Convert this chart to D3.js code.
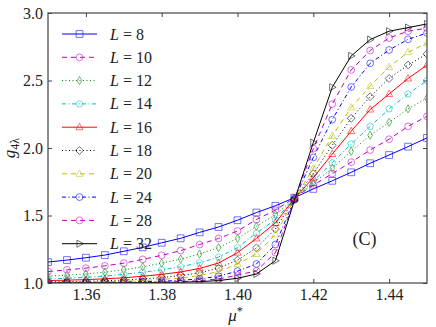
<!DOCTYPE html>
<html>
<head>
<meta charset="utf-8">
<script src="https://cdn.jsdelivr.net/npm/d3@7"></script>
<style>
  body { margin: 0; background: #fff; }
  text { font-family: "Liberation Serif", "DejaVu Serif", serif; }
</style>
</head>
<body>
<div id="chart"></div>
<script>
// Data
const mu = [1.350, 1.355, 1.360, 1.365, 1.370, 1.375, 1.380, 1.385, 1.390, 1.395, 1.400,
            1.405, 1.410, 1.415, 1.420, 1.425, 1.430, 1.435, 1.440, 1.445, 1.450];

const sizes = [8, 10, 12, 14, 16, 18, 20, 24, 28, 32];

const g8  = [1.155, 1.170, 1.187, 1.207, 1.235, 1.264, 1.298, 1.331, 1.375, 1.415, 1.465,
             1.522, 1.572, 1.632, 1.697, 1.757, 1.820, 1.887, 1.948, 2.010, 2.075];
const g10 = [1.085, 1.097, 1.110, 1.127, 1.147, 1.175, 1.205, 1.240, 1.285, 1.330, 1.385,
             1.470, 1.540, 1.630, 1.725, 1.810, 1.895, 1.985, 2.065, 2.160, 2.235];
const g12 = [1.050, 1.058, 1.068, 1.080, 1.098, 1.120, 1.147, 1.177, 1.215, 1.262, 1.330,
             1.420, 1.505, 1.628, 1.740, 1.850, 1.975, 2.095, 2.190, 2.290, 2.370];
const g14 = [1.030, 1.035, 1.042, 1.051, 1.064, 1.080, 1.098, 1.120, 1.150, 1.192, 1.262,
             1.370, 1.470, 1.626, 1.755, 1.890, 2.030, 2.160, 2.290, 2.400, 2.500];
const g16 = [1.018, 1.021, 1.025, 1.031, 1.039, 1.050, 1.064, 1.082, 1.108, 1.148, 1.225,
             1.330, 1.445, 1.624, 1.780, 1.955, 2.125, 2.285, 2.400, 2.515, 2.615];
const g18 = [1.008, 1.010, 1.013, 1.017, 1.022, 1.030, 1.040, 1.055, 1.075, 1.110, 1.170,
             1.260, 1.400, 1.622, 1.810, 2.020, 2.220, 2.380, 2.515, 2.615, 2.696];
const g20 = [1.005, 1.006, 1.008, 1.010, 1.013, 1.018, 1.026, 1.037, 1.055, 1.085, 1.140,
             1.215, 1.360, 1.620, 1.850, 2.090, 2.300, 2.459, 2.600, 2.710, 2.776];
const g24 = [1.002, 1.003, 1.004, 1.005, 1.007, 1.009, 1.013, 1.020, 1.030, 1.050, 1.088,
             1.141, 1.285, 1.618, 1.930, 2.210, 2.452, 2.627, 2.726, 2.805, 2.852];
const g28 = [1.001, 1.001, 1.002, 1.002, 1.003, 1.004, 1.006, 1.010, 1.017, 1.030, 1.058,
             1.090, 1.225, 1.615, 1.995, 2.325, 2.578, 2.722, 2.815, 2.865, 2.888];
const g32 = [1.000, 1.000, 1.001, 1.001, 1.002, 1.003, 1.004, 1.006, 1.010, 1.018, 1.035,
             1.067, 1.165, 1.610, 2.040, 2.450, 2.682, 2.803, 2.865, 2.892, 2.919];

const xTicks = [1.36, 1.38, 1.40, 1.42, 1.44];
const yTicks = [1.0, 1.5, 2.0, 2.5, 3.0];

// styling per series
const styles = [
  {color: "#0000ff", dash: null,            marker: "square"},
  {color: "#bf00bf", dash: "5,4",           marker: "circle"},
  {color: "#008000", dash: "1,2.5",         marker: "thin_diamond"},
  {color: "#00bfbf", dash: "4,2.5,1,2.5",   marker: "pentagon"},
  {color: "#ff0000", dash: null,            marker: "triangle_up"},
  {color: "#000000", dash: "1,2.5",         marker: "diamond"},
  {color: "#bfbf00", dash: "5,4",           marker: "triangle_up"},
  {color: "#0000ff", dash: "4,2.5,1,2.5",   marker: "circle"},
  {color: "#bf00bf", dash: "5,4",           marker: "circle"},
  {color: "#000000", dash: null,            marker: "triangle_right"}
];
const series = [g8, g10, g12, g14, g16, g18, g20, g24, g28, g32];

const W = 436, H = 327;
const margin = {top: 13, right: 9, bottom: 44, left: 48};
const width = W - margin.left - margin.right;
const height = H - margin.top - margin.bottom;

const svg = d3.select("#chart").append("svg")
  .attr("width", W).attr("height", H);

const g = svg.append("g")
  .attr("transform", `translate(${margin.left},${margin.top})`);

const x = d3.scaleLinear().domain([1.35, 1.45]).range([0, width]);
const y = d3.scaleLinear().domain([1.0, 3.0]).range([height, 0]);

g.append("clipPath").attr("id", "clip")
  .append("rect").attr("width", width).attr("height", height);

// marker path, centred on 0,0
function markerPath(type, r) {
  switch (type) {
    case "square":
      return `M${-r},${-r}H${r}V${r}H${-r}Z`;
    case "circle":
      return `M${r},0A${r},${r} 0 1,1 ${-r},0A${r},${r} 0 1,1 ${r},0Z`;
    case "diamond":
      return `M0,${-r*1.15}L${r*1.15},0L0,${r*1.15}L${-r*1.15},0Z`;
    case "thin_diamond":
      return `M0,${-r*1.2}L${r*0.7},0L0,${r*1.2}L${-r*0.7},0Z`;
    case "pentagon": {
      const pts = d3.range(5).map(i => {
        const a = -Math.PI / 2 + i * 2 * Math.PI / 5;
        return [r * 1.05 * Math.cos(a), r * 1.05 * Math.sin(a)];
      });
      return "M" + pts.map(p => p.join(",")).join("L") + "Z";
    }
    case "triangle_up":
      return `M0,${-r*1.15}L${r*1.05},${r*0.75}L${-r*1.05},${r*0.75}Z`;
    case "triangle_right":
      return `M${r*1.15},0L${-r*0.75},${r*1.05}L${-r*0.75},${-r*1.05}Z`;
  }
}

const line = d3.line()
  .x(d => x(d[0]))
  .y(d => y(d[1]));

const plot = g.append("g").attr("clip-path", "url(#clip)");

series.forEach((vals, i) => {
  const st = styles[i];
  const pts = mu.map((m, j) => [m, vals[j]]);
  plot.append("path")
    .datum(pts)
    .attr("fill", "none")
    .attr("stroke", st.color)
    .attr("stroke-width", 1)
    .attr("stroke-dasharray", st.dash)
    .attr("d", line);
  plot.selectAll(null)
    .data(pts)
    .enter().append("path")
    .attr("transform", d => `translate(${x(d[0])},${y(d[1])})`)
    .attr("d", markerPath(st.marker, 3.4))
    .attr("fill", "none")
    .attr("stroke", st.color)
    .attr("stroke-opacity", 0.55)
    .attr("stroke-width", 1);
});

// axes: ticks inside, on all four sides
const tickLen = 4;
const axisColor = "#444";

g.append("g")
  .attr("transform", `translate(0,${height})`)
  .call(d3.axisBottom(x).tickValues(xTicks).tickFormat(d3.format(".2f"))
    .tickSizeInner(-tickLen).tickSizeOuter(0).tickPadding(6))
  .call(a => a.select(".domain").remove())
  .selectAll("text").style("font-size", "16px").attr("fill", "#222");

g.append("g")
  .call(d3.axisTop(x).tickValues(xTicks).tickFormat("")
    .tickSizeInner(-tickLen).tickSizeOuter(0))
  .call(a => a.select(".domain").remove());

g.append("g")
  .call(d3.axisLeft(y).tickValues(yTicks).tickFormat(d3.format(".1f"))
    .tickSizeInner(-tickLen).tickSizeOuter(0).tickPadding(5))
  .call(a => a.select(".domain").remove())
  .selectAll("text").style("font-size", "16px").attr("fill", "#222");

g.append("g")
  .attr("transform", `translate(${width},0)`)
  .call(d3.axisRight(y).tickValues(yTicks).tickFormat("")
    .tickSizeInner(-tickLen).tickSizeOuter(0))
  .call(a => a.select(".domain").remove());

g.selectAll(".tick line").attr("stroke", axisColor);

g.append("rect")
  .attr("width", width).attr("height", height)
  .attr("fill", "none")
  .attr("stroke", axisColor)
  .attr("stroke-width", 1.2);

// legend (no frame)
const legend = g.append("g").attr("transform", "translate(14,21)");
sizes.forEach((L, i) => {
  const st = styles[i];
  const row = legend.append("g").attr("transform", `translate(0,${i * 23.3})`);
  row.append("line")
    .attr("x1", 0).attr("x2", 35)
    .attr("stroke", st.color).attr("stroke-width", 1)
    .attr("stroke-dasharray", st.dash);
  row.append("path")
    .attr("transform", "translate(17.5,0)")
    .attr("d", markerPath(st.marker, 3.4))
    .attr("fill", "none")
    .attr("stroke", st.color)
    .attr("stroke-opacity", 0.55);
  const t = row.append("text")
    .attr("x", 48).attr("y", 5.5)
    .style("font-size", "16px").attr("fill", "#222");
  t.append("tspan").style("font-style", "italic").text("L");
  t.append("tspan").text(" = " + L);
});

// panel label
g.append("text")
  .attr("x", x(1.4335)).attr("y", y(1.285))
  .attr("text-anchor", "middle")
  .style("font-size", "18px").attr("fill", "#222")
  .text("(C)");

// axis labels
const xl = svg.append("text")
  .attr("x", margin.left + width / 2 - 2)
  .attr("y", H - 6)
  .attr("text-anchor", "middle")
  .style("font-size", "17px").attr("fill", "#222");
xl.append("tspan").style("font-style", "italic").text("μ");
xl.append("tspan").attr("dy", -6).style("font-size", "12px").text("*");

const yl = svg.append("text")
  .attr("transform", `translate(15,${margin.top + height / 2}) rotate(-90)`)
  .attr("text-anchor", "middle")
  .style("font-size", "17px").attr("fill", "#222");
yl.append("tspan").style("font-style", "italic").text("g");
yl.append("tspan").attr("dy", 4).style("font-size", "12px").text("4λ");
</script>
</body>
</html>
